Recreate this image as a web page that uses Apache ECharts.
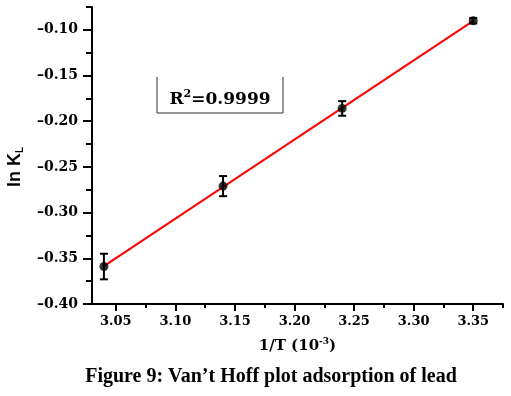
<!DOCTYPE html>
<html>
<head>
<meta charset="utf-8">
<script src="https://cdn.jsdelivr.net/npm/echarts@6/dist/echarts.min.js"></script>
<style>html,body{margin:0;padding:0;background:#fff}#c{width:511px;height:396px}</style>
</head>
<body>
<div id="c"></div>
<script>
// Data
const xTickValues = [3.05, 3.10, 3.15, 3.20, 3.25, 3.30, 3.35];
const xMinorTickValues = [3.075, 3.125, 3.175, 3.225, 3.275, 3.325, 3.375];
const yTickValues = [-0.40, -0.35, -0.30, -0.25, -0.20, -0.15, -0.10];
const yMinorTickValues = [-0.375, -0.325, -0.275, -0.225, -0.175, -0.125, -0.075];
const invT = [3.04, 3.14, 3.24, 3.35];
const lnKL = [-0.359, -0.271, -0.186, -0.090];
const errLnKL = [0.014, 0.011, 0.008, 0.003];
const r2Text = '0.9999';
const xTitle = '1/T (10';
const xTitleSup = '-3';
const yTitle = 'ln K';
const yTitleSub = 'L';
const caption = 'Figure 9: Van\u2019t Hoff plot adsorption of lead';

// linear fit from the points
const n = invT.length;
const mx = invT.reduce((a, b) => a + b, 0) / n;
const my = lnKL.reduce((a, b) => a + b, 0) / n;
let sxy = 0, sxx = 0;
for (let i = 0; i < n; i++) { sxy += (invT[i] - mx) * (lnKL[i] - my); sxx += (invT[i] - mx) ** 2; }
const slope = sxy / sxx, icpt = my - slope * mx;
const fitLine = [invT[0], invT[n - 1]].map(x => [x, icpt + slope * x]);

const points = invT.map((x, i) => [x, lnKL[i]]);
const errData = invT.map((x, i) => [x, lnKL[i], errLnKL[i]]);

const serif = 'DejaVu Serif';
const fmtY = v => v.toFixed(2).replace('-', '\u2013');

const chart = echarts.init(document.getElementById('c'), null, { renderer: 'canvas' });
chart.setOption({
  animation: false,
  backgroundColor: '#fff',
  grid: { left: 92, right: 8, top: 7, bottom: 92, containLabel: false },
  xAxis: [{
    type: 'value', min: 3.03, max: 3.375, position: 'bottom',
    axisLine: { onZero: false, lineStyle: { color: '#000', width: 2 } },
    axisTick: { customValues: xTickValues, length: 7, lineStyle: { color: '#000', width: 2 } },
    axisLabel: { customValues: xTickValues, formatter: v => v.toFixed(2), margin: 11,
      fontFamily: serif, fontWeight: 'bold', fontSize: 13, color: '#000' },
    splitLine: { show: false },
    name: '{a|' + xTitle + '}{s|' + xTitleSup + '}{a|)}',
    nameLocation: 'middle', nameGap: 33,
    nameTextStyle: { rich: {
      a: { fontFamily: serif, fontWeight: 'bold', fontSize: 15, color: '#000', lineHeight: 18 },
      s: { fontFamily: serif, fontWeight: 'bold', fontSize: 9, color: '#000', verticalAlign: 'top', lineHeight: 18, padding: [0, 0, 9, 0] }
    } }
  }, {
    type: 'value', min: 3.03, max: 3.375, position: 'bottom',
    axisLine: { show: false, onZero: false },
    axisTick: { customValues: xMinorTickValues, length: 4, lineStyle: { color: '#000', width: 2 } },
    axisLabel: { show: false }, splitLine: { show: false }
  }],
  yAxis: [{
    type: 'value', min: -0.40, max: -0.075, position: 'left',
    axisLine: { onZero: false, lineStyle: { color: '#000', width: 2 } },
    axisTick: { customValues: yTickValues, length: 9, lineStyle: { color: '#000', width: 2 } },
    axisLabel: { customValues: yTickValues, formatter: fmtY, margin: 14,
      fontFamily: serif, fontWeight: 'bold', fontSize: 14, color: '#000' },
    splitLine: { show: false }
  }, {
    type: 'value', min: -0.40, max: -0.075, position: 'left',
    axisLine: { show: false, onZero: false },
    axisTick: { customValues: yMinorTickValues, length: 6, lineStyle: { color: '#000', width: 2 } },
    axisLabel: { show: false }, splitLine: { show: false }
  }],
  series: [{
    type: 'line', data: fitLine, symbol: 'none', z: 2,
    lineStyle: { color: '#ff0000', width: 2 }
  }, {
    type: 'custom', data: errData, z: 3,
    renderItem: (params, api) => {
      const x = api.value(0), y = api.value(1), e = api.value(2);
      const t = api.coord([x, y + e]), b = api.coord([x, y - e]);
      const hw = 4, st = { stroke: '#000', lineWidth: 2 };
      return { type: 'group', children: [
        { type: 'line', shape: { x1: t[0], y1: t[1], x2: b[0], y2: b[1] }, style: st },
        { type: 'line', shape: { x1: t[0] - hw, y1: t[1], x2: t[0] + hw, y2: t[1] }, style: st },
        { type: 'line', shape: { x1: b[0] - hw, y1: b[1], x2: b[0] + hw, y2: b[1] }, style: st }
      ] };
    }
  }, {
    type: 'scatter', data: points, symbol: 'circle', symbolSize: 9, z: 4,
    itemStyle: { color: '#000' }
  }],
  graphic: [
    { type: 'text', x: 15, y: 167, rotation: Math.PI / 2,
      style: { text: '{a|' + yTitle + '}{s|' + yTitleSub + '}', align: 'center', verticalAlign: 'middle',
        rich: {
          a: { fontFamily: 'Liberation Sans', fontWeight: 'bold', fontSize: 18, fill: '#000', lineHeight: 20 },
          s: { fontFamily: 'Liberation Sans', fontWeight: 'bold', fontSize: 10, fill: '#000', verticalAlign: 'bottom', lineHeight: 20 }
        } } },
    { type: 'polyline', shape: { points: [[157, 77], [157, 113], [283, 113], [283, 77]] },
      style: { stroke: '#333', lineWidth: 1, fill: null } },
    { type: 'text', x: 220, y: 100,
      style: { text: '{a|R}{s|2}{a|=' + r2Text + '}', align: 'center', verticalAlign: 'middle',
        rich: {
          a: { fontFamily: serif, fontWeight: 'bold', fontSize: 17, fill: '#000', lineHeight: 22 },
          s: { fontFamily: serif, fontWeight: 'bold', fontSize: 11, fill: '#000', verticalAlign: 'top', lineHeight: 22, padding: [0, 0, 12, 0] }
        } } },
    { type: 'text', x: 271, y: 377,
      style: { text: caption, align: 'center', verticalAlign: 'middle',
        font: 'bold 20px "Liberation Serif"', fill: '#000' } }
  ]
});
</script>
</body>
</html>
